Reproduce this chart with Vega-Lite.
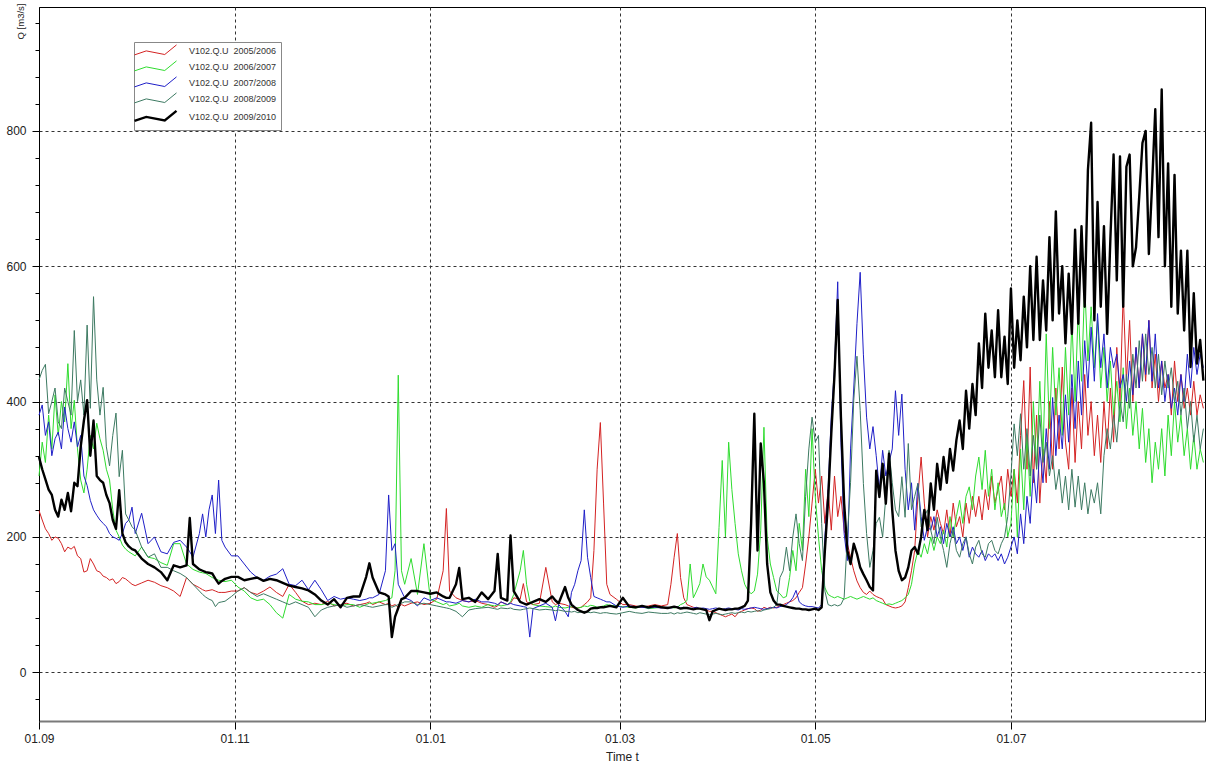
{
  "$schema": "https://vega.github.io/schema/vega-lite/v6.json",
  "width": 1166,
  "height": 714,
  "autosize": "none",
  "padding": {"left": 39, "top": 7, "right": 2, "bottom": 46},
  "background": "#ffffff",
  "config": {
    "font": "Liberation Sans",
    "view": {"stroke": "#000000", "strokeWidth": 1}
  },
  "data": {"values": [
    {"t":"2009-09-01","a":239,"b":290,"c":380,"d":432,"e":318},
    {"t":"2009-09-02","a":225,"b":340,"c":395,"d":446,"e":300},
    {"t":"2009-09-03","a":212,"b":310,"c":350,"d":455,"e":285},
    {"t":"2009-09-04","a":205,"b":380,"c":370,"d":382,"e":270},
    {"t":"2009-09-05","a":195,"b":330,"c":320,"d":400,"e":262},
    {"t":"2009-09-06","a":200,"b":410,"c":345,"d":420,"e":240},
    {"t":"2009-09-07","a":198,"b":350,"c":355,"d":370,"e":230},
    {"t":"2009-09-08","a":190,"b":400,"c":330,"d":360,"e":255},
    {"t":"2009-09-09","a":178,"b":370,"c":392,"d":420,"e":240},
    {"t":"2009-09-10","a":185,"b":456,"c":360,"d":400,"e":265},
    {"t":"2009-09-11","a":182,"b":360,"c":340,"d":380,"e":238},
    {"t":"2009-09-12","a":186,"b":402,"c":370,"d":505,"e":280},
    {"t":"2009-09-13","a":172,"b":330,"c":333,"d":400,"e":275},
    {"t":"2009-09-14","a":168,"b":284,"c":350,"d":432,"e":333},
    {"t":"2009-09-15","a":148,"b":265,"c":290,"d":380,"e":372},
    {"t":"2009-09-16","a":150,"b":300,"c":276,"d":513,"e":402},
    {"t":"2009-09-17","a":168,"b":350,"c":254,"d":390,"e":320},
    {"t":"2009-09-18","a":160,"b":330,"c":240,"d":555,"e":372},
    {"t":"2009-09-19","a":150,"b":368,"c":232,"d":432,"e":290},
    {"t":"2009-09-20","a":148,"b":345,"c":225,"d":380,"e":284},
    {"t":"2009-09-21","a":142,"b":328,"c":220,"d":421,"e":280},
    {"t":"2009-09-22","a":140,"b":300,"c":215,"d":333,"e":262},
    {"t":"2009-09-23","a":136,"b":284,"c":205,"d":305,"e":250},
    {"t":"2009-09-24","a":138,"b":240,"c":200,"d":350,"e":225},
    {"t":"2009-09-25","a":131,"b":210,"c":198,"d":383,"e":212},
    {"t":"2009-09-26","a":134,"b":200,"c":195,"d":289,"e":269},
    {"t":"2009-09-27","a":140,"b":188,"c":205,"d":328,"e":205},
    {"t":"2009-09-28","a":138,"b":182,"c":220,"d":234,"e":192},
    {"t":"2009-09-29","a":134,"b":178,"c":225,"d":225,"e":186},
    {"t":"2009-09-30","a":130,"b":175,"c":244,"d":215,"e":182},
    {"t":"2009-10-01","a":128,"b":172,"c":205,"d":210,"e":180},
    {"t":"2009-10-03","a":132,"b":185,"c":235,"d":185,"e":168},
    {"t":"2009-10-05","a":136,"b":170,"c":190,"d":170,"e":160},
    {"t":"2009-10-07","a":133,"b":168,"c":200,"d":175,"e":155},
    {"t":"2009-10-09","a":128,"b":162,"c":178,"d":155,"e":148},
    {"t":"2009-10-11","a":125,"b":158,"c":175,"d":155,"e":136},
    {"t":"2009-10-13","a":120,"b":190,"c":192,"d":150,"e":158},
    {"t":"2009-10-15","a":112,"b":190,"c":195,"d":146,"e":155},
    {"t":"2009-10-17","a":140,"b":160,"c":185,"d":140,"e":158},
    {"t":"2009-10-18","a":135,"b":156,"c":178,"d":135,"e":228},
    {"t":"2009-10-19","a":130,"b":152,"c":170,"d":130,"e":160},
    {"t":"2009-10-21","a":125,"b":148,"c":205,"d":120,"e":152},
    {"t":"2009-10-22","a":122,"b":147,"c":234,"d":115,"e":150},
    {"t":"2009-10-23","a":120,"b":146,"c":200,"d":111,"e":148},
    {"t":"2009-10-24","a":121,"b":143,"c":240,"d":108,"e":147},
    {"t":"2009-10-25","a":122,"b":140,"c":262,"d":106,"e":146},
    {"t":"2009-10-26","a":120,"b":138,"c":205,"d":97,"e":138},
    {"t":"2009-10-27","a":118,"b":136,"c":284,"d":103,"e":131},
    {"t":"2009-10-28","a":118,"b":135,"c":195,"d":104,"e":135},
    {"t":"2009-10-29","a":118,"b":134,"c":185,"d":105,"e":138},
    {"t":"2009-10-31","a":120,"b":136,"c":172,"d":112,"e":141},
    {"t":"2009-11-02","a":120,"b":126,"c":172,"d":120,"e":141},
    {"t":"2009-11-04","a":125,"b":120,"c":160,"d":125,"e":136},
    {"t":"2009-11-06","a":118,"b":110,"c":148,"d":118,"e":138},
    {"t":"2009-11-08","a":115,"b":106,"c":140,"d":112,"e":140},
    {"t":"2009-11-10","a":120,"b":108,"c":136,"d":116,"e":135},
    {"t":"2009-11-12","a":126,"b":100,"c":142,"d":112,"e":138},
    {"t":"2009-11-14","a":118,"b":88,"c":145,"d":108,"e":136},
    {"t":"2009-11-16","a":112,"b":80,"c":153,"d":104,"e":132},
    {"t":"2009-11-18","a":130,"b":115,"c":130,"d":100,"e":128},
    {"t":"2009-11-20","a":118,"b":108,"c":128,"d":104,"e":126},
    {"t":"2009-11-22","a":105,"b":105,"c":136,"d":100,"e":124},
    {"t":"2009-11-24","a":100,"b":104,"c":122,"d":96,"e":121},
    {"t":"2009-11-26","a":102,"b":100,"c":136,"d":82,"e":115},
    {"t":"2009-11-28","a":100,"b":100,"c":122,"d":92,"e":106},
    {"t":"2009-11-30","a":105,"b":102,"c":106,"d":96,"e":100},
    {"t":"2009-12-02","a":98,"b":100,"c":112,"d":98,"e":108},
    {"t":"2009-12-04","a":100,"b":98,"c":108,"d":100,"e":96},
    {"t":"2009-12-06","a":102,"b":100,"c":110,"d":96,"e":110},
    {"t":"2009-12-08","a":98,"b":100,"c":108,"d":98,"e":112},
    {"t":"2009-12-10","a":100,"b":96,"c":106,"d":100,"e":112},
    {"t":"2009-12-12","a":102,"b":100,"c":108,"d":98,"e":141},
    {"t":"2009-12-13","a":104,"b":102,"c":110,"d":97,"e":161},
    {"t":"2009-12-14","a":100,"b":102,"c":110,"d":96,"e":140},
    {"t":"2009-12-16","a":104,"b":104,"c":115,"d":98,"e":118},
    {"t":"2009-12-18","a":100,"b":106,"c":150,"d":100,"e":115},
    {"t":"2009-12-19","a":102,"b":108,"c":262,"d":100,"e":112},
    {"t":"2009-12-20","a":98,"b":110,"c":180,"d":96,"e":52},
    {"t":"2009-12-21","a":100,"b":150,"c":190,"d":98,"e":82},
    {"t":"2009-12-22","a":96,"b":439,"c":130,"d":100,"e":95},
    {"t":"2009-12-23","a":100,"b":150,"c":120,"d":102,"e":108},
    {"t":"2009-12-24","a":98,"b":130,"c":110,"d":104,"e":110},
    {"t":"2009-12-26","a":102,"b":168,"c":106,"d":104,"e":120},
    {"t":"2009-12-28","a":104,"b":115,"c":98,"d":100,"e":120},
    {"t":"2009-12-30","a":100,"b":190,"c":110,"d":102,"e":118},
    {"t":"2010-01-01","a":102,"b":108,"c":106,"d":100,"e":116},
    {"t":"2010-01-03","a":108,"b":104,"c":110,"d":98,"e":118},
    {"t":"2010-01-05","a":150,"b":100,"c":106,"d":96,"e":112},
    {"t":"2010-01-06","a":242,"b":102,"c":104,"d":95,"e":110},
    {"t":"2010-01-07","a":120,"b":98,"c":104,"d":94,"e":110},
    {"t":"2010-01-09","a":110,"b":100,"c":102,"d":90,"e":130},
    {"t":"2010-01-10","a":108,"b":102,"c":104,"d":86,"e":154},
    {"t":"2010-01-11","a":106,"b":98,"c":106,"d":82,"e":108},
    {"t":"2010-01-13","a":104,"b":96,"c":104,"d":92,"e":110},
    {"t":"2010-01-15","a":106,"b":98,"c":108,"d":94,"e":104},
    {"t":"2010-01-17","a":102,"b":96,"c":104,"d":95,"e":118},
    {"t":"2010-01-19","a":100,"b":100,"c":104,"d":96,"e":108},
    {"t":"2010-01-21","a":96,"b":98,"c":102,"d":94,"e":120},
    {"t":"2010-01-22","a":98,"b":100,"c":100,"d":93,"e":175},
    {"t":"2010-01-23","a":104,"b":98,"c":104,"d":95,"e":110},
    {"t":"2010-01-25","a":100,"b":100,"c":100,"d":94,"e":106},
    {"t":"2010-01-26","a":102,"b":104,"c":102,"d":95,"e":202},
    {"t":"2010-01-27","a":110,"b":115,"c":100,"d":93,"e":120},
    {"t":"2010-01-29","a":108,"b":150,"c":98,"d":92,"e":104},
    {"t":"2010-01-30","a":131,"b":180,"c":97,"d":93,"e":102},
    {"t":"2010-01-31","a":104,"b":130,"c":96,"d":94,"e":100},
    {"t":"2010-02-01","a":102,"b":105,"c":52,"d":95,"e":102},
    {"t":"2010-02-02","a":100,"b":100,"c":94,"d":94,"e":104},
    {"t":"2010-02-04","a":102,"b":98,"c":98,"d":92,"e":108},
    {"t":"2010-02-06","a":155,"b":97,"c":102,"d":93,"e":104},
    {"t":"2010-02-08","a":104,"b":96,"c":96,"d":92,"e":112},
    {"t":"2010-02-09","a":100,"b":98,"c":76,"d":91,"e":106},
    {"t":"2010-02-10","a":102,"b":96,"c":100,"d":92,"e":102},
    {"t":"2010-02-12","a":100,"b":95,"c":90,"d":90,"e":126},
    {"t":"2010-02-13","a":98,"b":96,"c":82,"d":90,"e":110},
    {"t":"2010-02-14","a":96,"b":97,"c":118,"d":89,"e":100},
    {"t":"2010-02-15","a":95,"b":96,"c":130,"d":90,"e":96},
    {"t":"2010-02-16","a":95,"b":95,"c":150,"d":88,"e":92},
    {"t":"2010-02-17","a":96,"b":96,"c":165,"d":89,"e":90},
    {"t":"2010-02-18","a":100,"b":98,"c":240,"d":90,"e":88},
    {"t":"2010-02-19","a":104,"b":97,"c":170,"d":89,"e":90},
    {"t":"2010-02-20","a":110,"b":99,"c":140,"d":88,"e":94},
    {"t":"2010-02-21","a":180,"b":98,"c":112,"d":89,"e":95},
    {"t":"2010-02-22","a":300,"b":96,"c":110,"d":88,"e":95},
    {"t":"2010-02-23","a":369,"b":97,"c":108,"d":87,"e":96},
    {"t":"2010-02-24","a":250,"b":98,"c":106,"d":88,"e":96},
    {"t":"2010-02-25","a":130,"b":100,"c":104,"d":88,"e":97},
    {"t":"2010-02-26","a":115,"b":99,"c":104,"d":87,"e":98},
    {"t":"2010-02-28","a":108,"b":98,"c":98,"d":86,"e":96},
    {"t":"2010-03-02","a":100,"b":97,"c":96,"d":88,"e":110},
    {"t":"2010-03-04","a":100,"b":96,"c":98,"d":90,"e":97},
    {"t":"2010-03-06","a":98,"b":95,"c":97,"d":88,"e":96},
    {"t":"2010-03-08","a":96,"b":97,"c":96,"d":87,"e":98},
    {"t":"2010-03-10","a":98,"b":94,"c":95,"d":89,"e":96},
    {"t":"2010-03-12","a":100,"b":95,"c":96,"d":88,"e":98},
    {"t":"2010-03-14","a":98,"b":96,"c":95,"d":87,"e":96},
    {"t":"2010-03-16","a":100,"b":95,"c":96,"d":87,"e":95},
    {"t":"2010-03-17","a":130,"b":96,"c":95,"d":88,"e":96},
    {"t":"2010-03-18","a":170,"b":95,"c":96,"d":86,"e":97},
    {"t":"2010-03-19","a":205,"b":96,"c":97,"d":88,"e":96},
    {"t":"2010-03-20","a":140,"b":100,"c":95,"d":87,"e":94},
    {"t":"2010-03-21","a":110,"b":102,"c":96,"d":88,"e":95},
    {"t":"2010-03-22","a":100,"b":106,"c":95,"d":89,"e":95},
    {"t":"2010-03-23","a":98,"b":160,"c":94,"d":88,"e":94},
    {"t":"2010-03-24","a":96,"b":110,"c":95,"d":87,"e":93},
    {"t":"2010-03-25","a":95,"b":120,"c":96,"d":86,"e":94},
    {"t":"2010-03-26","a":94,"b":131,"c":94,"d":88,"e":94},
    {"t":"2010-03-27","a":93,"b":160,"c":95,"d":87,"e":93},
    {"t":"2010-03-28","a":92,"b":141,"c":94,"d":86,"e":92},
    {"t":"2010-03-29","a":90,"b":136,"c":93,"d":85,"e":77},
    {"t":"2010-03-30","a":90,"b":126,"c":94,"d":86,"e":90},
    {"t":"2010-03-31","a":88,"b":116,"c":95,"d":87,"e":92},
    {"t":"2010-04-01","a":86,"b":214,"c":94,"d":86,"e":94},
    {"t":"2010-04-02","a":84,"b":313,"c":93,"d":85,"e":93},
    {"t":"2010-04-03","a":82,"b":200,"c":94,"d":86,"e":92},
    {"t":"2010-04-04","a":84,"b":340,"c":95,"d":87,"e":93},
    {"t":"2010-04-05","a":86,"b":270,"c":94,"d":88,"e":93},
    {"t":"2010-04-06","a":82,"b":220,"c":93,"d":87,"e":94},
    {"t":"2010-04-07","a":88,"b":175,"c":92,"d":88,"e":94},
    {"t":"2010-04-08","a":90,"b":150,"c":94,"d":89,"e":96},
    {"t":"2010-04-09","a":92,"b":130,"c":93,"d":88,"e":98},
    {"t":"2010-04-10","a":94,"b":121,"c":94,"d":90,"e":106},
    {"t":"2010-04-11","a":95,"b":116,"c":95,"d":89,"e":220},
    {"t":"2010-04-12","a":94,"b":120,"c":96,"d":90,"e":382},
    {"t":"2010-04-13","a":90,"b":145,"c":95,"d":91,"e":180},
    {"t":"2010-04-14","a":92,"b":210,"c":94,"d":90,"e":338},
    {"t":"2010-04-15","a":96,"b":362,"c":93,"d":92,"e":279},
    {"t":"2010-04-16","a":94,"b":200,"c":94,"d":93,"e":160},
    {"t":"2010-04-17","a":96,"b":160,"c":95,"d":94,"e":118},
    {"t":"2010-04-18","a":95,"b":140,"c":96,"d":96,"e":106},
    {"t":"2010-04-19","a":96,"b":120,"c":95,"d":100,"e":100},
    {"t":"2010-04-20","a":98,"b":116,"c":97,"d":140,"e":100},
    {"t":"2010-04-21","a":100,"b":110,"c":98,"d":150,"e":98},
    {"t":"2010-04-22","a":102,"b":112,"c":100,"d":185,"e":97},
    {"t":"2010-04-23","a":104,"b":140,"c":104,"d":150,"e":96},
    {"t":"2010-04-24","a":106,"b":180,"c":110,"d":200,"e":95},
    {"t":"2010-04-25","a":110,"b":150,"c":121,"d":234,"e":94},
    {"t":"2010-04-26","a":118,"b":220,"c":104,"d":190,"e":94},
    {"t":"2010-04-27","a":125,"b":180,"c":100,"d":165,"e":93},
    {"t":"2010-04-28","a":160,"b":300,"c":98,"d":260,"e":93},
    {"t":"2010-04-29","a":200,"b":230,"c":97,"d":330,"e":92},
    {"t":"2010-04-30","a":250,"b":360,"c":97,"d":377,"e":93},
    {"t":"2010-05-01","a":300,"b":260,"c":96,"d":340,"e":94},
    {"t":"2010-05-02","a":250,"b":200,"c":95,"d":350,"e":92},
    {"t":"2010-05-03","a":290,"b":150,"c":100,"d":220,"e":96},
    {"t":"2010-05-04","a":220,"b":125,"c":200,"d":120,"e":180},
    {"t":"2010-05-05","a":270,"b":115,"c":270,"d":100,"e":254},
    {"t":"2010-05-06","a":210,"b":112,"c":380,"d":98,"e":353},
    {"t":"2010-05-07","a":290,"b":110,"c":450,"d":100,"e":440},
    {"t":"2010-05-08","a":230,"b":112,"c":577,"d":98,"e":550},
    {"t":"2010-05-09","a":260,"b":110,"c":340,"d":100,"e":377},
    {"t":"2010-05-10","a":210,"b":108,"c":205,"d":110,"e":250},
    {"t":"2010-05-11","a":190,"b":110,"c":165,"d":200,"e":180},
    {"t":"2010-05-12","a":170,"b":112,"c":330,"d":280,"e":160},
    {"t":"2010-05-13","a":150,"b":110,"c":420,"d":402,"e":190},
    {"t":"2010-05-14","a":135,"b":108,"c":515,"d":467,"e":175},
    {"t":"2010-05-15","a":125,"b":110,"c":591,"d":387,"e":155},
    {"t":"2010-05-16","a":118,"b":112,"c":470,"d":279,"e":145},
    {"t":"2010-05-17","a":115,"b":110,"c":377,"d":205,"e":136},
    {"t":"2010-05-18","a":120,"b":108,"c":330,"d":155,"e":126},
    {"t":"2010-05-19","a":115,"b":110,"c":363,"d":180,"e":121},
    {"t":"2010-05-20","a":112,"b":106,"c":320,"d":220,"e":298},
    {"t":"2010-05-21","a":110,"b":104,"c":270,"d":229,"e":259},
    {"t":"2010-05-22","a":108,"b":102,"c":328,"d":200,"e":308},
    {"t":"2010-05-23","a":100,"b":100,"c":290,"d":260,"e":249},
    {"t":"2010-05-24","a":98,"b":101,"c":310,"d":328,"e":323},
    {"t":"2010-05-25","a":96,"b":100,"c":330,"d":280,"e":240},
    {"t":"2010-05-26","a":95,"b":102,"c":416,"d":240,"e":180},
    {"t":"2010-05-27","a":96,"b":104,"c":350,"d":230,"e":150},
    {"t":"2010-05-28","a":98,"b":106,"c":411,"d":289,"e":136},
    {"t":"2010-05-29","a":104,"b":110,"c":300,"d":229,"e":140},
    {"t":"2010-05-30","a":125,"b":115,"c":240,"d":338,"e":155},
    {"t":"2010-05-31","a":150,"b":130,"c":280,"d":240,"e":180},
    {"t":"2010-06-01","a":180,"b":160,"c":210,"d":260,"e":185},
    {"t":"2010-06-02","a":260,"b":180,"c":279,"d":279,"e":175},
    {"t":"2010-06-03","a":318,"b":170,"c":230,"d":215,"e":200},
    {"t":"2010-06-04","a":250,"b":190,"c":195,"d":230,"e":240},
    {"t":"2010-06-05","a":200,"b":175,"c":215,"d":240,"e":210},
    {"t":"2010-06-06","a":230,"b":200,"c":210,"d":210,"e":279},
    {"t":"2010-06-07","a":210,"b":180,"c":230,"d":190,"e":240},
    {"t":"2010-06-08","a":240,"b":200,"c":200,"d":229,"e":308},
    {"t":"2010-06-09","a":220,"b":190,"c":215,"d":200,"e":270},
    {"t":"2010-06-10","a":205,"b":210,"c":190,"d":180,"e":318},
    {"t":"2010-06-11","a":240,"b":185,"c":220,"d":155,"e":280},
    {"t":"2010-06-12","a":200,"b":230,"c":200,"d":190,"e":330},
    {"t":"2010-06-13","a":250,"b":200,"c":215,"d":210,"e":298},
    {"t":"2010-06-14","a":215,"b":230,"c":190,"d":180,"e":343},
    {"t":"2010-06-15","a":230,"b":254,"c":200,"d":170,"e":372},
    {"t":"2010-06-16","a":200,"b":220,"c":180,"d":190,"e":330},
    {"t":"2010-06-17","a":250,"b":260,"c":200,"d":200,"e":416},
    {"t":"2010-06-18","a":220,"b":274,"c":170,"d":175,"e":360},
    {"t":"2010-06-19","a":260,"b":240,"c":185,"d":160,"e":426},
    {"t":"2010-06-20","a":230,"b":290,"c":175,"d":185,"e":380},
    {"t":"2010-06-21","a":260,"b":318,"c":170,"d":195,"e":486},
    {"t":"2010-06-22","a":225,"b":270,"c":180,"d":175,"e":420},
    {"t":"2010-06-23","a":270,"b":328,"c":165,"d":170,"e":530},
    {"t":"2010-06-24","a":240,"b":260,"c":175,"d":190,"e":450},
    {"t":"2010-06-25","a":290,"b":300,"c":170,"d":195,"e":505},
    {"t":"2010-06-26","a":250,"b":240,"c":175,"d":180,"e":436},
    {"t":"2010-06-27","a":270,"b":280,"c":165,"d":175,"e":535},
    {"t":"2010-06-28","a":290,"b":230,"c":175,"d":190,"e":436},
    {"t":"2010-06-29","a":240,"b":250,"c":160,"d":200,"e":496},
    {"t":"2010-06-30","a":300,"b":200,"c":170,"d":230,"e":426},
    {"t":"2010-07-01","a":260,"b":220,"c":185,"d":290,"e":567},
    {"t":"2010-07-02","a":300,"b":300,"c":200,"d":367,"e":450},
    {"t":"2010-07-03","a":250,"b":200,"c":175,"d":320,"e":520},
    {"t":"2010-07-04","a":350,"b":330,"c":234,"d":382,"e":461},
    {"t":"2010-07-05","a":431,"b":240,"c":190,"d":300,"e":555},
    {"t":"2010-07-06","a":300,"b":350,"c":260,"d":360,"e":480},
    {"t":"2010-07-07","a":451,"b":260,"c":220,"d":290,"e":600},
    {"t":"2010-07-08","a":280,"b":400,"c":300,"d":350,"e":491},
    {"t":"2010-07-09","a":380,"b":300,"c":250,"d":300,"e":614},
    {"t":"2010-07-10","a":250,"b":430,"c":333,"d":380,"e":491},
    {"t":"2010-07-11","a":330,"b":320,"c":280,"d":310,"e":579},
    {"t":"2010-07-12","a":280,"b":500,"c":360,"d":340,"e":505},
    {"t":"2010-07-13","a":400,"b":360,"c":300,"d":290,"e":643},
    {"t":"2010-07-14","a":300,"b":480,"c":406,"d":320,"e":520},
    {"t":"2010-07-15","a":420,"b":380,"c":320,"d":270,"e":681},
    {"t":"2010-07-16","a":330,"b":450,"c":380,"d":300,"e":530},
    {"t":"2010-07-17","a":451,"b":350,"c":330,"d":250,"e":600},
    {"t":"2010-07-18","a":340,"b":480,"c":410,"d":290,"e":486},
    {"t":"2010-07-19","a":300,"b":380,"c":340,"d":240,"e":589},
    {"t":"2010-07-20","a":420,"b":520,"c":440,"d":300,"e":500},
    {"t":"2010-07-21","a":310,"b":400,"c":360,"d":244,"e":654},
    {"t":"2010-07-22","a":400,"b":540,"c":460,"d":290,"e":515},
    {"t":"2010-07-23","a":330,"b":430,"c":380,"d":240,"e":659},
    {"t":"2010-07-24","a":440,"b":574,"c":490,"d":280,"e":540},
    {"t":"2010-07-25","a":350,"b":460,"c":420,"d":234,"e":742},
    {"t":"2010-07-26","a":400,"b":540,"c":510,"d":270,"e":812},
    {"t":"2010-07-27","a":320,"b":450,"c":430,"d":250,"e":520},
    {"t":"2010-07-28","a":380,"b":520,"c":530,"d":280,"e":695},
    {"t":"2010-07-29","a":310,"b":420,"c":450,"d":234,"e":540},
    {"t":"2010-07-30","a":400,"b":480,"c":500,"d":320,"e":659},
    {"t":"2010-07-31","a":330,"b":400,"c":420,"d":360,"e":500},
    {"t":"2010-08-01","a":420,"b":460,"c":480,"d":330,"e":640},
    {"t":"2010-08-02","a":340,"b":380,"c":450,"d":380,"e":765},
    {"t":"2010-08-03","a":480,"b":430,"c":470,"d":340,"e":579},
    {"t":"2010-08-04","a":400,"b":370,"c":420,"d":400,"e":762},
    {"t":"2010-08-05","a":560,"b":450,"c":440,"d":370,"e":540},
    {"t":"2010-08-06","a":430,"b":360,"c":400,"d":440,"e":747},
    {"t":"2010-08-07","a":520,"b":420,"c":460,"d":390,"e":765},
    {"t":"2010-08-08","a":400,"b":350,"c":410,"d":470,"e":600},
    {"t":"2010-08-09","a":480,"b":400,"c":480,"d":420,"e":628},
    {"t":"2010-08-10","a":420,"b":330,"c":420,"d":490,"e":703},
    {"t":"2010-08-11","a":500,"b":390,"c":500,"d":430,"e":782},
    {"t":"2010-08-12","a":430,"b":310,"c":440,"d":500,"e":800},
    {"t":"2010-08-13","a":520,"b":360,"c":520,"d":440,"e":618},
    {"t":"2010-08-14","a":420,"b":280,"c":430,"d":480,"e":720},
    {"t":"2010-08-15","a":470,"b":340,"c":500,"d":420,"e":832},
    {"t":"2010-08-16","a":400,"b":300,"c":420,"d":470,"e":643},
    {"t":"2010-08-17","a":460,"b":360,"c":460,"d":410,"e":861},
    {"t":"2010-08-18","a":420,"b":290,"c":400,"d":460,"e":600},
    {"t":"2010-08-19","a":440,"b":380,"c":440,"d":420,"e":752},
    {"t":"2010-08-20","a":380,"b":320,"c":390,"d":450,"e":540},
    {"t":"2010-08-21","a":460,"b":400,"c":420,"d":400,"e":735},
    {"t":"2010-08-22","a":400,"b":340,"c":380,"d":430,"e":530},
    {"t":"2010-08-23","a":440,"b":380,"c":440,"d":380,"e":623},
    {"t":"2010-08-24","a":390,"b":320,"c":400,"d":420,"e":505},
    {"t":"2010-08-25","a":420,"b":360,"c":470,"d":360,"e":623},
    {"t":"2010-08-26","a":380,"b":300,"c":420,"d":400,"e":451},
    {"t":"2010-08-27","a":430,"b":350,"c":480,"d":340,"e":560},
    {"t":"2010-08-28","a":380,"b":300,"c":440,"d":380,"e":456},
    {"t":"2010-08-29","a":410,"b":330,"c":470,"d":330,"e":491},
    {"t":"2010-08-30","a":390,"b":310,"c":450,"d":360,"e":431}
  ]},
  "transform": [{"fold": ["a", "b", "c", "d", "e"], "as": ["s", "q"]}],
  "layer": [
    {
      "mark": {"type": "line", "strokeJoin": "round"},
      "encoding": {
        "x": {
          "field": "t",
          "type": "temporal",
          "scale": {
            "type": "utc",
            "domain": [
              {"year": 2009, "month": 9, "date": 1, "utc": true},
              {"year": 2010, "month": 8, "date": 30, "hours": 12, "utc": true}
            ]
          },
          "axis": {
            "orient": "bottom",
            "values": [
              {"year": 2009, "month": 9, "date": 1, "utc": true},
              {"year": 2009, "month": 11, "date": 1, "utc": true},
              {"year": 2010, "month": 1, "date": 1, "utc": true},
              {"year": 2010, "month": 3, "date": 1, "utc": true},
              {"year": 2010, "month": 5, "date": 1, "utc": true},
              {"year": 2010, "month": 7, "date": 1, "utc": true}
            ],
            "labelExpr": "utcFormat(datum.value, '%d.%m')",
            "labelFlush": false,
            "labelOverlap": false,
            "labelFontSize": 12,
            "labelColor": "#222222",
            "labelPadding": 4,
            "tickSize": 8,
            "tickColor": "#000000",
            "domainColor": "#7a7a7a",
            "domainWidth": 2,
            "grid": true,
            "gridColor": "#333333",
            "gridDash": [3, 3],
            "gridWidth": 1,
            "title": "Time t",
            "titleFontSize": 12,
            "titleFontWeight": "normal",
            "titleColor": "#222222",
            "titlePadding": 7
          }
        },
        "y": {
          "field": "q",
          "type": "quantitative",
          "scale": {"domain": [-72, 983], "nice": false, "zero": false},
          "axis": {
            "orient": "left",
            "values": [0, 200, 400, 600, 800],
            "labelFontSize": 12,
            "labelColor": "#222222",
            "labelPadding": 6,
            "tickSize": 7,
            "tickColor": "#000000",
            "domainColor": "#000000",
            "grid": true,
            "gridColor": "#333333",
            "gridDash": [3, 3],
            "gridWidth": 1,
            "title": "Q [m3/s]",
            "titleFontSize": 9.5,
            "titleFontWeight": "normal",
            "titleColor": "#222222",
            "titleAngle": 270,
            "titleAlign": "right",
            "titleBaseline": "middle",
            "titleX": -19,
            "titleY": -4
          }
        },
        "color": {
          "field": "s",
          "type": "nominal",
          "scale": {
            "domain": ["a", "b", "c", "d", "e"],
            "range": ["#d42323", "#2fdc2f", "#1f1fc8", "#3d7a62", "#000000"]
          },
          "legend": {
            "orient": "none",
            "legendX": 95,
            "legendY": 35,
            "title": null,
            "labelExpr": "datum.label == 'a' ? 'V102.Q.U\u00a0\u00a02005/2006' : datum.label == 'b' ? 'V102.Q.U\u00a0\u00a02006/2007' : datum.label == 'c' ? 'V102.Q.U\u00a0\u00a02007/2008' : datum.label == 'd' ? 'V102.Q.U\u00a0\u00a02008/2009' : 'V102.Q.U\u00a0\u00a02009/2010'",
            "symbolType": "M-1,0.55L0.47,0.05L2.78,0.5L4.25,-0.7",
            "symbolSize": 256,
            "symbolStrokeWidth": 1,
            "labelFontSize": 9,
            "labelColor": "#333333",
            "labelOffset": 42,
            "labelLimit": 300,
            "strokeColor": "#888888",
            "fillColor": "#ffffff",
            "padding": 4,
            "rowPadding": 1,
            "encode": {
              "symbols": {
                "update": {
                  "fill": {"value": "transparent"},
                  "strokeWidth": {"signal": "datum.value === 'e' ? 2.4 : 1"}
                }
              }
            }
          }
        },
        "strokeWidth": {"condition": {"test": "datum.s === 'e'", "value": 2.4}, "value": 1}
      }
    },
    {
      "transform": [{"filter": "false"}],
      "mark": {"type": "tick"},
      "encoding": {
        "y": {
          "field": "q",
          "type": "quantitative",
          "scale": {"domain": [-72, 983], "nice": false, "zero": false},
          "axis": {
            "orient": "left",
            "values": [-40, 40, 80, 120, 160, 240, 280, 320, 360, 440, 480, 520, 560, 640, 680, 720, 760, 840, 880, 920, 960],
            "labels": false,
            "domain": false,
            "grid": false,
            "tickSize": 4,
            "tickColor": "#000000",
            "title": null
          }
        }
      }
    }
  ],
  "resolve": {"axis": {"y": "independent"}}
}
